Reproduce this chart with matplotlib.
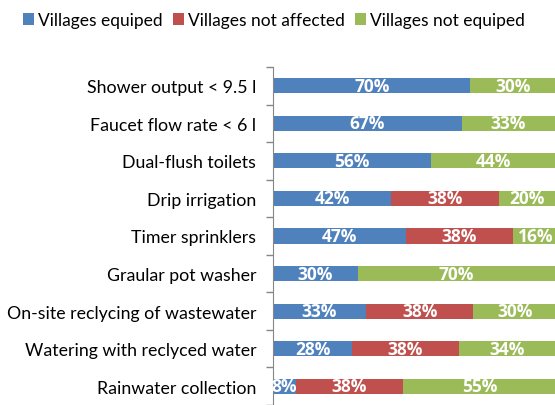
import numpy as np
import matplotlib.pyplot as plt

plt.rcParams['font.family'] = ['Lato', 'DejaVu Sans']

categories = ['Shower output < 9.5 l', 'Faucet flow rate < 6 l', 'Dual-flush toilets',
              'Drip irrigation', 'Timer sprinklers', 'Graular pot washer',
              'On-site reclycing of wastewater', 'Watering with reclyced water',
              'Rainwater collection']
equiped = [70, 67, 56, 42, 47, 30, 33, 28, 8]
not_affected = [0, 0, 0, 38, 38, 0, 38, 38, 38]
not_equiped = [30, 33, 44, 20, 16, 70, 30, 34, 55]

series = [('Villages equiped', equiped, '#4F81BD'),
          ('Villages not affected', not_affected, '#C0504D'),
          ('Villages not equiped', not_equiped, '#9BBB59')]

fig = plt.figure(figsize=(5.55, 4.06), dpi=100)
ax = fig.add_axes([273 / 555, 0.0, 1 - 273 / 555, 1 - 68 / 406])

y = np.arange(len(categories))
left = np.zeros(len(categories))
handles = []
for name, vals, col in series:
    vals = np.array(vals, dtype=float)
    h = ax.barh(y, vals, left=left, height=0.4, color=col, label=name)
    handles.append(h)
    for yi, l, v in zip(y, left, vals):
        if v > 0:
            ax.text(l + v / 2, yi, f'{int(v)}%', ha='center', va='center',
                    color='white', fontweight='bold', fontsize=12.5,
                    family=['Open Sans', 'DejaVu Sans'])
    left += vals

ax.set_xlim(0, 100)
ax.set_ylim(len(categories) - 0.5, -0.5)
ax.set_yticks(y)
ax.set_yticklabels(categories, fontsize=12.8)
ax.tick_params(axis='y', length=0, pad=12)
ax.set_yticks(np.arange(len(categories) + 1) - 0.5, minor=True)
ax.tick_params(axis='y', which='minor', length=5, color='#868686', width=1)
ax.set_xticks([])
for s in ['top', 'right', 'bottom']:
    ax.spines[s].set_visible(False)
ax.spines['left'].set_color('#868686')

fig.legend(handles=handles, loc='center', bbox_to_anchor=(0.494, 0.948), ncol=3,
           frameon=False, fontsize=12.5, handlelength=0.6, handleheight=0.6,
           handletextpad=0.25, columnspacing=0.6)

fig.savefig('out.png', dpi=100)
